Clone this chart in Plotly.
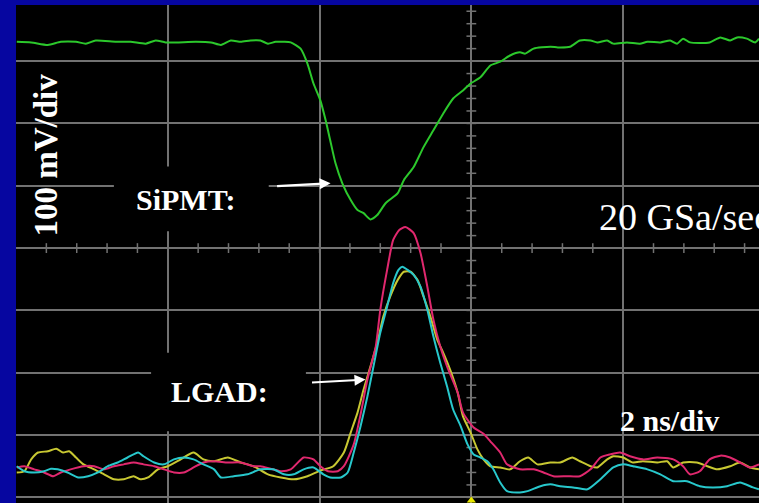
import numpy as np
import plotly.graph_objects as go

# Oscilloscope capture: SiPMT and three LGAD channels (2 ns/div, 100 mV/div)
# time in ns (trigger at 0), amplitude in mV (screen centre at 0)

sipmt_t = [-5.99, -5.80, -5.58, -5.41, -5.21, -5.08, -4.95, -4.68, -4.49, -4.29, -4.16, -4.03,
           -3.89, -3.63, -3.43, -3.30, -3.17, -3.04, -2.91, -2.78, -2.68, -2.58, -2.47, -2.38,
           -2.25, -2.16, -2.08, -1.99, -1.92, -1.86, -1.79, -1.70, -1.59, -1.50, -1.42, -1.33,
           -1.24, -1.13, -0.97, -0.89, -0.76, -0.63, -0.50, -0.37, -0.24, -0.11, -0.01, 0.12,
           0.25, 0.38, 0.51, 0.64, 0.71, 0.82, 1.04, 1.14, 1.30, 1.43, 1.57, 1.66, 1.79, 1.87,
           2.05, 2.22, 2.32, 2.49, 2.62, 2.71, 2.79, 2.88, 3.14, 3.28, 3.41, 3.50, 3.63, 3.74, 3.79]
sipmt_mv = [331, 330, 326, 331, 331, 328, 333, 331, 331, 328, 333, 330,
            330, 331, 330, 326, 333, 331, 333, 333, 328, 331, 331, 330,
            320, 296, 264, 237, 205, 173, 136, 104, 77, 61, 56, 46,
            53, 72, 88, 109, 130, 162, 189, 216, 240, 253, 264, 274,
            293, 299, 309, 314, 312, 320, 323, 322, 323, 333, 333, 330, 333, 328,
            330, 328, 331, 330, 333, 328, 336, 330, 330, 338, 333, 338, 336, 330, 336]

lgad_pink_t = [-5.99, -5.89, -5.76, -5.63, -5.51, -5.41, -5.28, -5.11, -4.97, -4.84, -4.71, -4.58,
               -4.45, -4.32, -4.18, -4.05, -3.92, -3.79, -3.66, -3.53, -3.39, -3.21, -3.04, -2.87,
               -2.78, -2.51, -2.38, -2.21, -2.08, -1.99, -1.89, -1.76, -1.68, -1.55, -1.46, -1.37,
               -1.26, -1.20, -1.11, -1.03, -0.95, -0.87, -0.76, -0.67, -0.58, -0.50, -0.41, -0.32,
               -0.18, -0.11, 0.03, 0.16, 0.25, 0.38, 0.47, 0.64, 0.82, 0.95, 1.08, 1.26, 1.43,
               1.57, 1.70, 1.83, 1.96, 2.09, 2.26, 2.45, 2.66, 2.79, 2.88, 3.01, 3.14, 3.28, 3.41,
               3.54, 3.67, 3.79]
lgad_pink_mv = [-352, -350, -355, -360, -366, -360, -355, -350, -350, -355, -350, -347,
                -344, -347, -350, -355, -360, -360, -352, -344, -342, -344, -344, -350,
                -350, -358, -355, -336, -339, -350, -358, -358, -350, -315, -267, -211,
                -158, -99, -35, 13, 29, 34, 24, -8, -62, -115, -158, -190,
                -232, -264, -288, -298, -310, -328, -347, -355, -355, -360, -366, -366, -366,
                -355, -336, -331, -328, -334, -339, -336, -339, -350, -363, -358, -339, -333, -336,
                -344, -352, -347]

lgad_cyan_t = [-5.99, -5.89, -5.76, -5.63, -5.54, -5.45, -5.32, -5.18, -5.05, -4.92, -4.79, -4.66,
               -4.53, -4.39, -4.32, -4.18, -4.05, -3.92, -3.79, -3.66, -3.53, -3.39, -3.30, -3.13,
               -2.95, -2.78, -2.61, -2.47, -2.34, -2.21, -2.08, -1.95, -1.86, -1.72, -1.63, -1.55,
               -1.46, -1.37, -1.29, -1.20, -1.11, -1.03, -0.96, -0.91, -0.84, -0.76, -0.67, -0.58,
               -0.50, -0.41, -0.32, -0.24, -0.14, -0.05, 0.03, 0.12, 0.21, 0.29, 0.38, 0.47, 0.64,
               0.74, 0.91, 1.04, 1.17, 1.34, 1.53, 1.70, 1.87, 2.00, 2.13, 2.32, 2.49, 2.66, 2.84,
               3.01, 3.18, 3.37, 3.54, 3.71, 3.79]
lgad_cyan_mv = [-350, -358, -360, -358, -354, -355, -360, -368, -366, -360, -350, -344,
                -336, -328, -334, -344, -347, -339, -336, -339, -347, -355, -368, -366,
                -363, -355, -355, -363, -363, -355, -352, -363, -368, -368, -360, -328,
                -286, -238, -190, -136, -94, -56, -35, -30, -35, -43, -62, -99,
                -142, -184, -222, -259, -286, -315, -331, -336, -342, -355, -376, -390, -392,
                -390, -382, -379, -382, -384, -387, -371, -352, -347, -350, -355, -363, -374, -374,
                -382, -384, -382, -376, -384, -387]

lgad_yellow_t = [-5.99, -5.89, -5.80, -5.71, -5.58, -5.47, -5.38, -5.30, -5.21, -5.11, -4.97, -4.84,
                 -4.71, -4.58, -4.45, -4.36, -4.26, -4.13, -4.00, -3.83, -3.66, -3.53, -3.39, -3.21,
                 -3.04, -2.87, -2.68, -2.51, -2.34, -2.16, -1.99, -1.82, -1.68, -1.59, -1.50, -1.42,
                 -1.33, -1.24, -1.16, -1.07, -0.97, -0.89, -0.80, -0.71, -0.63, -0.54, -0.45, -0.37,
                 -0.28, -0.18, -0.11, -0.01, 0.08, 0.16, 0.25, 0.38, 0.51, 0.64, 0.75, 0.87, 1.04,
                 1.17, 1.33, 1.43, 1.57, 1.66, 1.79, 1.87, 2.00, 2.13, 2.26, 2.45, 2.58, 2.66, 2.79,
                 2.97, 3.11, 3.24, 3.41, 3.54, 3.67, 3.79]
lgad_yellow_mv = [-360, -358, -339, -328, -326, -322, -328, -326, -336, -347, -355, -363,
                  -371, -371, -366, -371, -368, -355, -350, -339, -328, -339, -342, -336,
                  -344, -350, -363, -368, -371, -366, -357, -350, -328, -296, -264, -227,
                  -190, -152, -110, -78, -51, -38, -38, -51, -78, -110, -147, -168,
                  -195, -232, -270, -296, -323, -339, -350, -352, -355, -342, -336, -347, -344,
                  -344, -336, -342, -350, -352, -339, -334, -336, -344, -342, -344, -342, -352, -344,
                  -344, -350, -355, -350, -344, -352, -355]

channels = [
    ("SiPMT", sipmt_t, sipmt_mv, "#2cc82c"),
    ("LGAD 1", lgad_yellow_t, lgad_yellow_mv, "#c8c832"),
    ("LGAD 2", lgad_pink_t, lgad_pink_mv, "#e0286e"),
    ("LGAD 3", lgad_cyan_t, lgad_cyan_mv, "#28c8cc"),
]

T_RANGE = [-6.0, 3.79]
V_RANGE = [-409, 390]
GRID = "#727272"

fig = go.Figure()

# graticule ticks along the centre axes
tick_t = np.arange(-5.6, 3.8, 0.4)
tick_v = np.arange(-400, 390, 20)
fig.add_trace(go.Scatter(x=tick_t, y=np.zeros_like(tick_t), mode="markers",
                         marker=dict(symbol="line-ns", size=7, line=dict(color=GRID, width=1.5)),
                         hoverinfo="skip", showlegend=False))
fig.add_trace(go.Scatter(x=np.zeros_like(tick_v), y=tick_v, mode="markers",
                         marker=dict(symbol="line-ew", size=7, line=dict(color=GRID, width=1.5)),
                         hoverinfo="skip", showlegend=False))

for name, t, mv, color in channels:
    fig.add_trace(go.Scatter(x=t, y=mv, mode="lines", name=name,
                             line=dict(color=color, width=2, shape="spline", smoothing=0.6),
                             showlegend=False))

# trigger marker
fig.add_trace(go.Scatter(x=[0], y=[-405], mode="markers", cliponaxis=False,
                         marker=dict(symbol="triangle-up", size=8, color="#e8e800"),
                         hoverinfo="skip", showlegend=False))

# label backgrounds
for x0, x1, y0, y1 in [(-4.71, -2.67, 27, 131), (-4.22, -2.18, -294, -168)]:
    fig.add_shape(type="rect", x0=x0, x1=x1, y0=y0, y1=y1, layer="between",
                  fillcolor="black", line=dict(width=0))

bold = dict(family="Liberation Serif", size=30, color="white", weight="bold")
fig.add_annotation(x=-5.605, y=150, text="<b>100 mV/div</b>", textangle=-90,
                   showarrow=False, font=dict(bold, size=33))
fig.add_annotation(x=-3.77, y=78, text="<b>SiPMT:</b>", showarrow=False, font=bold)
fig.add_annotation(x=-3.316, y=-230, text="<b>LGAD:</b>", showarrow=False, font=bold)
fig.add_annotation(x=2.61, y=-277, text="<b>2 ns/div</b>", showarrow=False, font=bold)
fig.add_annotation(x=1.658, y=50, text="20 GSa/sec", showarrow=False, xanchor="left",
                   font=dict(family="Liberation Serif", size=38, color="white"))

# pointer arrows
for hx, hy in [(-1.855, 104), (-1.395, -211)]:
    fig.add_annotation(x=hx, y=hy, ax=-55, ay=3, text="", showarrow=True,
                       arrowhead=2, arrowsize=1, arrowwidth=2.2, arrowcolor="white")

fig.update_xaxes(range=T_RANGE, tick0=0, dtick=2, showgrid=True, gridcolor=GRID, gridwidth=1.5,
                 zeroline=True, zerolinecolor=GRID, zerolinewidth=1.5,
                 showticklabels=False, ticks="", showline=False)
fig.update_yaxes(range=V_RANGE, tick0=0, dtick=100, showgrid=True, gridcolor=GRID, gridwidth=1.5,
                 zeroline=True, zerolinecolor=GRID, zerolinewidth=1.5,
                 showticklabels=False, ticks="", showline=False)

fig.update_layout(width=759, height=503, margin=dict(l=16, r=0, t=5, b=0),
                  paper_bgcolor="#0606a0", plot_bgcolor="black")

fig.write_html("out.html")
